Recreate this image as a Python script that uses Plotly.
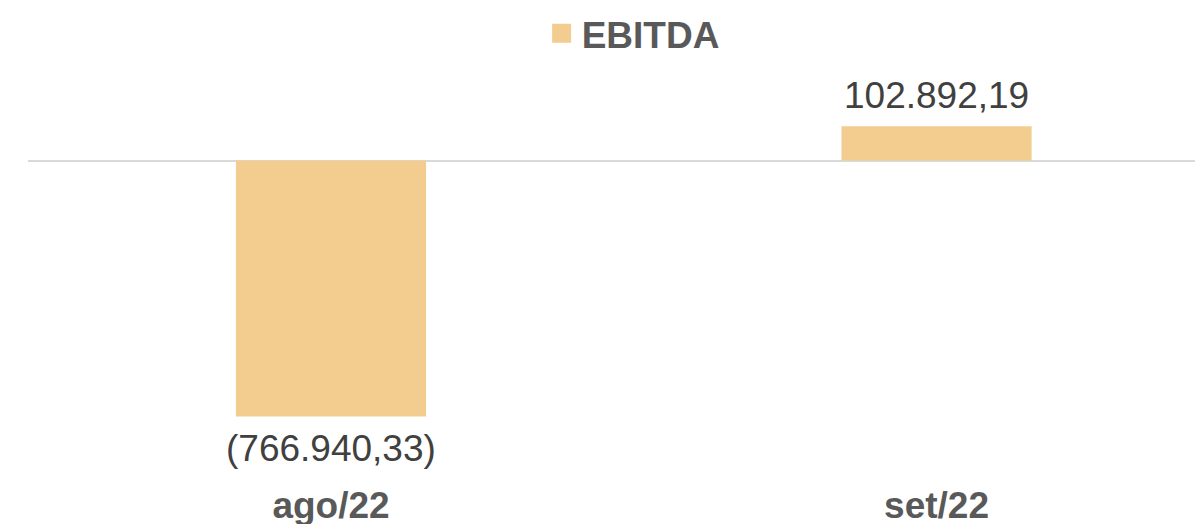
import plotly.graph_objects as go

categories = ["ago/22", "set/22"]
ebitda = [-766940.33, 102892.19]
series_name = "EBITDA"

bar_color = "#F2CD8F"
font_family = "Liberation Sans, Arial, sans-serif"


def fmt_br(v):
    s = f"{abs(v):,.2f}".replace(",", "X").replace(".", ",").replace("X", ".")
    return f"({s})" if v < 0 else s


fig = go.Figure()
fig.add_trace(go.Bar(
    x=categories, y=ebitda, width=0.314,
    marker=dict(color=bar_color, line=dict(width=0)),
    showlegend=False, hoverinfo="skip",
))
# legend entry
fig.add_trace(go.Scatter(
    x=[None], y=[None], mode="markers", name=series_name,
    marker=dict(symbol="square", size=16, color=bar_color,
                line=dict(color=bar_color, width=3)),
))

annotations = []
for c, v in zip(categories, ebitda):
    annotations.append(dict(
        x=c, y=v, xref="x", yref="y", text=fmt_br(v), showarrow=False,
        yanchor="middle", yshift=31 if v >= 0 else -32,
        font=dict(family=font_family, size=37, color="#404040"),
    ))

fig.update_layout(
    width=1195, height=516,
    margin=dict(l=20, r=0, t=52, b=39, autoexpand=False),
    plot_bgcolor="white", paper_bgcolor="white",
    font=dict(family=font_family),
    showlegend=True,
    legend=dict(orientation="h", x=0.515, xanchor="center",
                yref="container", y=0.95, yanchor="middle",
                font=dict(family=font_family, size=37, color="#595959", weight="bold"),
                itemwidth=30, tracegroupgap=0, bgcolor="rgba(0,0,0,0)"),
    annotations=annotations,
    xaxis=dict(range=[-0.5004, 1.440], showgrid=False, showline=False, zeroline=False,
               ticks="", automargin=False, ticklabelstandoff=-5,
               tickfont=dict(family=font_family, size=37, color="#595959", weight="bold")),
    yaxis=dict(range=[-972130, 301078], showgrid=False, showticklabels=False,
               zeroline=True, zerolinecolor="#D9D9D9", zerolinewidth=2, showline=False),
)

fig.write_html("out.html")
